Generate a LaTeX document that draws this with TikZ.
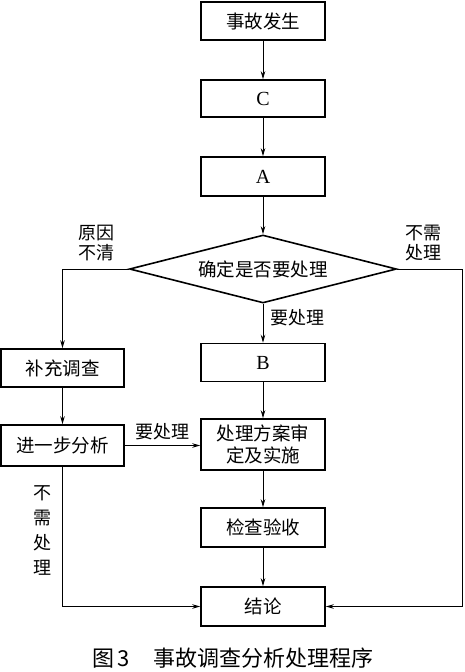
\documentclass[tikz,border=0pt]{standalone}
\usepackage{fontspec}
\setmainfont{Liberation Serif}
\newfontfamily\cjk{Noto Sans CJK SC}
\usetikzlibrary{shapes.geometric,arrows.meta}
\begin{document}
\begin{tikzpicture}[x=1pt,y=-1pt,
  box/.style={draw,line width=1.6pt,minimum width=124pt,inner sep=0pt,font=\cjk\fontsize{18.5}{22}\selectfont,align=center},
  dec/.style={draw,line width=1.6pt,shape=diamond,aspect=3.93,minimum width=267pt,minimum height=68pt,inner sep=0pt,font=\cjk\fontsize{18.5}{22}\selectfont},
  lab/.style={font=\cjk\fontsize{18}{20}\selectfont,align=center,inner sep=0pt},
  conn/.style={line width=0.9pt,-{Stealth[length=8pt,width=4.5pt]}},
  plain/.style={line width=0.9pt}]
\useasboundingbox (0,0) rectangle (464,672);
\node[box,minimum height=38pt] (start) at (263,21) {事故发生};
\node[box,minimum height=37pt,font=\fontsize{20}{22}\selectfont] (c) at (263,98.5) {C};
\node[box,minimum height=39pt,font=\fontsize{20}{22}\selectfont] (a) at (263,176.5) {A};
\node[dec] (dia) at (263,269) {确定是否要处理};
\node[box,minimum height=38pt,font=\fontsize{20}{22}\selectfont] (b) at (263,362.5) {B};
\node[box,minimum height=51pt] (plan) at (263,444.5) {处理方案审\\定及实施};
\node[box,minimum height=39pt] (check) at (263,527.5) {检查验收};
\node[box,minimum height=39pt] (concl) at (263,606.5) {结论};
\node[box,minimum width=123pt,minimum height=38pt] (bc) at (62.5,368) {补充调查};
\node[box,minimum width=123pt,minimum height=41pt] (fx) at (62.5,445.5) {进一步分析};
\coordinate (rr) at (462.5,269);
\draw[conn] (start) -- (c);
\draw[conn] (c) -- (a);
\draw[conn] (a) -- (dia.north);
\draw[conn] (dia.south) -- (b);
\draw[conn] (b) -- (plan);
\draw[conn] (plan) -- (check);
\draw[conn] (check) -- (concl);
\draw[conn] (dia.west) -| (bc.north);
\draw[conn] (bc) -- (fx);
\draw[conn] (fx.east) -- (fx.east -| plan.west);
\draw[conn] (fx.south) |- (concl.west);
\draw[conn] (dia.east) -- (rr) |- (concl.east);
\node[lab] (l1) at (96,243) {原因\\不清};
\node[lab] (l2) at (423,243) {不需\\处理};
\node[lab] (l3) at (297,318) {要处理};
\node[lab] (l4) at (162,432) {要处理};
\node[lab,font=\cjk\fontsize{18}{25}\selectfont] (l5) at (42,530) {不\\需\\处\\理};
\node[font=\cjk\fontsize{22}{24}\selectfont,inner sep=0pt] (cap) at (233,658) {图\,3\hspace{24pt}事故调查分析处理程序};
\end{tikzpicture}
\end{document}
